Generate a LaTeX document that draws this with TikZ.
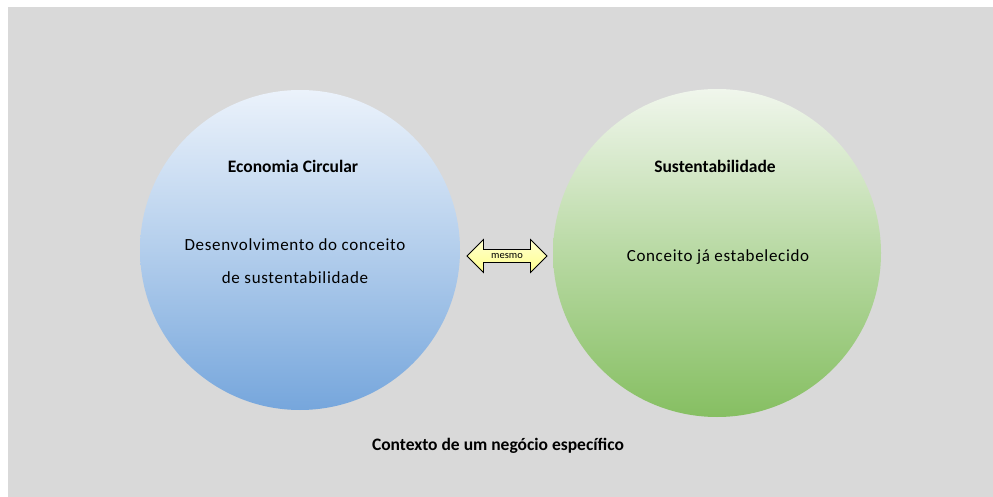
\documentclass[tikz,border=0pt]{standalone}
\usepackage{fontspec}
\setmainfont{Carlito}
\usetikzlibrary{shapes.arrows}
\definecolor{bggray}{HTML}{D9D9D9}
\definecolor{bluetop}{HTML}{EBF2FB}
\definecolor{bluemid}{HTML}{B3CEEC}
\definecolor{bluebot}{HTML}{76A6DC}
\definecolor{greentop}{HTML}{F0F6EC}
\definecolor{greenmid}{HTML}{B8D9A3}
\definecolor{greenbot}{HTML}{86BF62}
\definecolor{arrowtop}{HTML}{FFFFD0}
\definecolor{arrowbot}{HTML}{FFFF8C}
\tikzset{
  bubble/.style={circle, draw=none, inner sep=0pt},
  titletext/.style={font=\fontsize{17.5}{20}\selectfont\bfseries, inner sep=0pt},
  bodytext/.style={font=\fontsize{17}{33}\selectfont\addfontfeatures{LetterSpace=4}, inner sep=0pt, align=center},
  linkarrow/.style={double arrow, draw=black, line width=0.8pt, top color=arrowtop, bottom color=arrowbot,
    font=\fontsize{10.5}{11}\selectfont, inner xsep=0pt, inner ysep=3.5pt,
    minimum height=80pt, double arrow head extend=10pt, double arrow tip angle=90}
}
\begin{document}
\begin{tikzpicture}[x=1pt,y=-1pt]
  \useasboundingbox (0,0) rectangle (993,497);
  \fill[bggray] (8,7) rectangle (993,497);
  \node[bubble, minimum size=320pt, top color=bluetop, bottom color=bluebot, middle color=bluemid] (ec) at (300,250) {};
  \node[bubble, minimum size=328pt, top color=greentop, bottom color=greenbot, middle color=greenmid] (su) at (717,253) {};
  \node[titletext] (ect) at (293,166) {Economia Circular};
  \node[bodytext] (ecb) at (295,261) {Desenvolvimento do conceito\\de sustentabilidade};
  \node[titletext] (sut) at (715,166) {Sustentabilidade};
  \node[bodytext] (sub) at (718,257) {Conceito já estabelecido};
  \node[linkarrow] (link) at (507,256) {mesmo};
  \node[titletext] (ctx) at (498,446) {Contexto de um negócio específico};
\end{tikzpicture}
\end{document}
